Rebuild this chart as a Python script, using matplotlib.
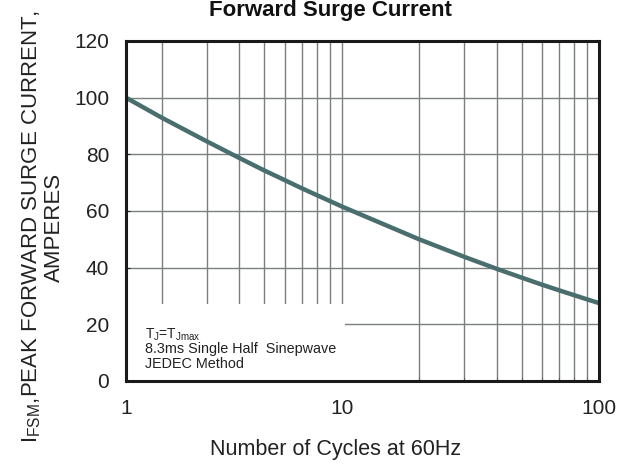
import matplotlib
matplotlib.use("Agg")
import matplotlib.pyplot as plt
from matplotlib.patches import Rectangle
from matplotlib.ticker import FixedLocator, NullFormatter

plt.rcParams['font.family'] = ['Liberation Sans', 'DejaVu Sans']
plt.rcParams['mathtext.fontset'] = 'custom'
plt.rcParams['mathtext.rm'] = 'Liberation Sans'
plt.rcParams['mathtext.it'] = 'Liberation Sans'

# Data (axis left edge sits at ~1.45 on the true log scale, labelled "1")
x_left = 1.45
cycles = [x_left, 2, 3, 4, 5, 6, 7, 8, 9, 10, 20, 30, 40, 50, 60, 70, 80, 90, 100]
current = [100, 92.9, 84.5, 78.7, 74.3, 70.9, 68.0, 65.6, 63.5, 61.6,
           50.0, 43.8, 39.6, 36.5, 34.0, 32.0, 30.3, 28.8, 27.5]
xtick_pos = [x_left, 10, 100]
xtick_labels = ["1", "10", "100"]
yticks = [0, 20, 40, 60, 80, 100, 120]
minor_pos = [2, 3, 4, 5, 6, 7, 8, 9, 20, 30, 40, 50, 60, 70, 80, 90]

fig = plt.figure(figsize=(6.34, 4.66), dpi=100)
ax = fig.add_axes([126/634, 1-381/466, (599-126)/634, (381-41)/466])
ax.set_xscale('log')
ax.set_xlim(x_left, 100)
ax.set_ylim(0, 120)

ax.xaxis.set_major_locator(FixedLocator(xtick_pos))
ax.set_xticklabels(xtick_labels)
ax.xaxis.set_minor_locator(FixedLocator(minor_pos))
ax.xaxis.set_minor_formatter(NullFormatter())
ax.set_yticks(yticks)
ax.tick_params(axis='both', which='major', direction='in', length=3, labelsize=15, colors='#222222')
ax.tick_params(axis='x', which='major', pad=13)
ax.tick_params(axis='y', which='major', pad=12)
ax.tick_params(axis='x', which='minor', direction='in', length=3, color='#555555')

ax.grid(True, which='both', color='#7a7f7f', linewidth=1.0)

ax.plot(cycles, current, color='#4a6e6e', linewidth=3.2, zorder=4, solid_capstyle='butt')

for s in ax.spines.values():
    s.set_linewidth(2.2)
    s.set_color('#1a1a1a')
    s.set_zorder(5)

box = Rectangle((0, 0), (345-126)/473, (381-304)/340, transform=ax.transAxes,
                facecolor='white', edgecolor='none', zorder=3)
ax.add_patch(box)

ax.text(0.04, 0.126, r"T$_\mathregular{J}$=T$_\mathregular{Jmax}$", transform=ax.transAxes,
        fontsize=10, color='#222222', zorder=6, va='baseline')
ax.text(0.04, 0.081, "8.3ms Single Half  Sinepwave", transform=ax.transAxes,
        fontsize=10.4, color='#222222', zorder=6, va='baseline')
ax.text(0.04, 0.038, "JEDEC Method", transform=ax.transAxes,
        fontsize=10.4, color='#222222', zorder=6, va='baseline')

fig.text(330/634, 1-16/466, "Forward Surge Current", fontsize=16, fontweight='bold',
         ha='center', va='baseline', color='#111111')
fig.text(43/634, 1-227/466, "I$_\\mathregular{FSM}$,PEAK FORWARD SURGE CURRENT,\nAMPERES",
         rotation=90, ha='center', va='center', fontsize=16, color='#222222',
         multialignment='center', linespacing=1.08)
fig.text(336/634, 1-449/466, "Number of Cycles at 60Hz", fontsize=15.5, color='#222222',
         ha='center', va='center')

fig.savefig("out.png", dpi=100)
